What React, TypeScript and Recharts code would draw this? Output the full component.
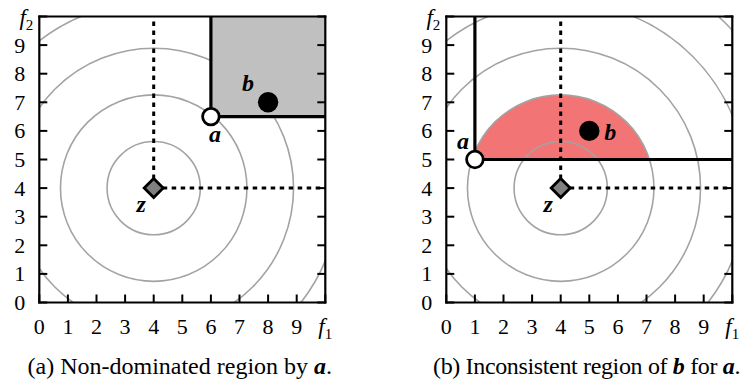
import React from 'react';
import { ScatterChart, Scatter, XAxis, YAxis, ReferenceArea, ReferenceLine } from 'recharts';

const SERIF = '"Liberation Serif", "Times New Roman", serif';

// ---- axes ----
const axisDomain: [number, number] = [0, 10];
const axisTicks = [0, 1, 2, 3, 4, 5, 6, 7, 8, 9, 10];
const tickLabels = ['0', '1', '2', '3', '4', '5', '6', '7', '8', '9'];
const xAxisName = ['f', '1'];
const yAxisName = ['f', '2'];

// ---- geometry ----
const zPoint = [{ x: 4, y: 4 }];
const contourRadii = [1.63, 3.26, 4.89, 6.52, 8.15];

const aPointA = [{ x: 6, y: 6.5 }];
const bPointA = [{ x: 8, y: 7 }];

const aPointB = [{ x: 1, y: 5 }];
const bPointB = [{ x: 5, y: 6 }];
const inconsistentRadius = 3.26;

const captionA = ['(a) Non-dominated region by ', 'a', '.'];
const captionB = ['(b) Inconsistent region of ', 'b', ' for ', 'a', '.'];

// ---- styles ----
const RING = '#a3a3a3';
const GRAY_REGION = '#c0c0c0';
const RED_REGION = '#f27474';
const axisLineStyle = { stroke: '#000', strokeWidth: 2.2, strokeLinecap: 'square' as const };
const tickLineStyle = { stroke: '#000', strokeWidth: 2 };

const XTick = (props: any) => {
  const { x, y, payload } = props;
  const v = payload.value;
  if (v === axisDomain[1]) {
    return (
      <text x={x} y={y + 31} textAnchor="middle" fontFamily={SERIF} fontSize={23} fill="#000">
        <tspan fontStyle="italic">{xAxisName[0]}</tspan>
        <tspan fontSize={15} dy={5}>{xAxisName[1]}</tspan>
      </text>
    );
  }
  return (
    <text x={x} y={y + 31} textAnchor="middle" fontFamily={SERIF} fontSize={22} fill="#000">
      {tickLabels[v]}
    </text>
  );
};

const YTick = (props: any) => {
  const { x, y, payload } = props;
  const v = payload.value;
  if (v === axisDomain[1]) {
    return (
      <text x={x - 6} y={y + 8} textAnchor="end" fontFamily={SERIF} fontSize={23} fill="#000">
        <tspan fontStyle="italic">{yAxisName[0]}</tspan>
        <tspan fontSize={15} dy={5}>{yAxisName[1]}</tspan>
      </text>
    );
  }
  return (
    <text x={x - 14} y={y + 7.5} textAnchor="end" fontFamily={SERIF} fontSize={22} fill="#000">
      {tickLabels[v]}
    </text>
  );
};

const emptyTick = () => <g />;

const ringShape = (props: any) => {
  const { x, y, width, height, clipPath } = props;
  const w = Math.abs(width);
  const h = Math.abs(height);
  return (
    <ellipse
      cx={x + w / 2}
      cy={y + h / 2}
      rx={w / 2}
      ry={h / 2}
      fill="none"
      stroke={RING}
      strokeWidth={1.6}
      clipPath={clipPath}
    />
  );
};

const makeSegmentShape = (center: { x: number; y: number }, r: number, floorY: number, leftX: number) =>
  (props: any) => {
    const { x, y, width, height, clipPath } = props;
    const rx = Math.abs(width) / 2;
    const ry = Math.abs(height) / 2;
    const cx = x + rx;
    const cy = y + ry;
    const px = (v: number) => cx + ((v - center.x) / r) * rx;
    const py = (v: number) => cy - ((v - center.y) / r) * ry;
    const dy = floorY - center.y;
    const half = Math.sqrt(r * r - dy * dy);
    const xl = Math.max(center.x - half, leftX);
    const yl = center.y + Math.sqrt(Math.max(r * r - (xl - center.x) * (xl - center.x), 0));
    const xr = center.x + half;
    const d = `M${px(xl)},${py(floorY)} L${px(xl)},${py(yl)} A${rx},${ry} 0 0 1 ${px(xr)},${py(floorY)} Z`;
    return <path d={d} fill={RED_REGION} stroke="none" clipPath={clipPath} />;
  };

const labelText = (x: number, y: number, t: string) => (
  <text x={x} y={y} textAnchor="middle" fontFamily={SERIF} fontSize={24} fontWeight="bold" fontStyle="italic" fill="#000">
    {t}
  </text>
);

const makeMarker = (kind: 'a' | 'b' | 'z', dx: number, dy: number) => (props: any) => {
  const { cx, cy } = props;
  let mark: React.ReactNode = null;
  if (kind === 'a') {
    mark = <circle cx={cx} cy={cy} r={8.3} fill="#fff" stroke="#000" strokeWidth={2.8} />;
  } else if (kind === 'b') {
    mark = <circle cx={cx} cy={cy} r={10.2} fill="#000" />;
  } else {
    const h = 9.5;
    mark = (
      <path
        d={`M${cx},${cy - h} L${cx + h},${cy} L${cx},${cy + h} L${cx - h},${cy} Z`}
        fill="#808080"
        stroke="#000"
        strokeWidth={2.8}
        strokeLinejoin="miter"
      />
    );
  }
  return (
    <g>
      {mark}
      {labelText(cx + dx, cy + dy, kind)}
    </g>
  );
};

type PanelCfg = {
  margin: { top: number; right: number; bottom: number; left: number };
  a: { x: number; y: number }[];
  b: { x: number; y: number }[];
  mode: 'dominated' | 'inconsistent';
  aLabel: [number, number];
  bLabel: [number, number];
  zLabel: [number, number];
};

function Panel({ cfg }: { cfg: PanelCfg }) {
  const z = zPoint[0];
  const a = cfg.a[0];
  const hi = axisDomain[1];
  const rings = contourRadii.map((r, i) => (
    <ReferenceArea
      key={`ring-${i}`}
      x1={z.x - r}
      x2={z.x + r}
      y1={z.y - r}
      y2={z.y + r}
      ifOverflow="hidden"
      shape={ringShape}
    />
  ));
  const region =
    cfg.mode === 'dominated' ? (
      <ReferenceArea key="dom" x1={a.x} x2={hi} y1={a.y} y2={hi} ifOverflow="hidden" fill={GRAY_REGION} fillOpacity={1} stroke="none" />
    ) : (
      <ReferenceArea
        key="inc"
        x1={z.x - inconsistentRadius}
        x2={z.x + inconsistentRadius}
        y1={z.y - inconsistentRadius}
        y2={z.y + inconsistentRadius}
        ifOverflow="hidden"
        shape={makeSegmentShape(z, inconsistentRadius, a.y, a.x)}
      />
    );
  const layers = cfg.mode === 'dominated' ? [...rings, region] : [region, ...rings];
  return (
    <ScatterChart width={373} height={385} margin={cfg.margin}>
      {layers}
      <ReferenceLine segment={[{ x: z.x, y: z.y }, { x: z.x, y: hi }]} stroke="#000" strokeWidth={3} strokeDasharray="4.5 4.5" />
      <ReferenceLine segment={[{ x: z.x, y: z.y }, { x: hi, y: z.y }]} stroke="#000" strokeWidth={3} strokeDasharray="4.5 4.5" />
      <ReferenceLine segment={[{ x: a.x, y: a.y }, { x: a.x, y: hi }]} stroke="#000" strokeWidth={3.2} />
      <ReferenceLine segment={[{ x: a.x, y: a.y }, { x: hi, y: a.y }]} stroke="#000" strokeWidth={3.2} />
      <Scatter data={zPoint} isAnimationActive={false} shape={makeMarker('z', cfg.zLabel[0], cfg.zLabel[1])} />
      <Scatter data={cfg.b} isAnimationActive={false} shape={makeMarker('b', cfg.bLabel[0], cfg.bLabel[1])} />
      <Scatter data={cfg.a} isAnimationActive={false} shape={makeMarker('a', cfg.aLabel[0], cfg.aLabel[1])} />
      <XAxis
        xAxisId={0}
        type="number"
        dataKey="x"
        domain={axisDomain}
        ticks={axisTicks}
        interval={0}
        allowDataOverflow
        height={40}
        tickSize={-8}
        tickMargin={8}
        axisLine={axisLineStyle}
        tickLine={tickLineStyle}
        tick={(p: any) => <XTick {...p} />}
      />
      <XAxis
        xAxisId="top"
        orientation="top"
        type="number"
        domain={axisDomain}
        ticks={axisTicks}
        interval={0}
        allowDataOverflow
        height={1}
        tickSize={-8}
        tickMargin={0}
        axisLine={axisLineStyle}
        tickLine={tickLineStyle}
        tick={emptyTick}
      />
      <YAxis
        yAxisId={0}
        type="number"
        dataKey="y"
        domain={axisDomain}
        ticks={axisTicks}
        interval={0}
        allowDataOverflow
        width={30}
        tickSize={-8}
        tickMargin={8}
        axisLine={axisLineStyle}
        tickLine={tickLineStyle}
        tick={(p: any) => <YTick {...p} />}
      />
      <YAxis
        yAxisId="right"
        orientation="right"
        type="number"
        domain={axisDomain}
        ticks={axisTicks}
        interval={0}
        allowDataOverflow
        width={1}
        tickSize={-8}
        tickMargin={0}
        axisLine={axisLineStyle}
        tickLine={tickLineStyle}
        tick={emptyTick}
      />
    </ScatterChart>
  );
}

const panelA: PanelCfg = {
  margin: { top: 15.5, right: 46.7, bottom: 42.5, left: 9.3 },
  a: aPointA,
  b: bPointA,
  mode: 'dominated',
  aLabel: [4, 25],
  bLabel: [-20, -11.5],
  zLabel: [-12.5, 24],
};

const panelB: PanelCfg = {
  margin: { top: 15.5, right: 12.7, bottom: 42.5, left: 43.3 },
  a: aPointB,
  b: bPointB,
  mode: 'inconsistent',
  aLabel: [-12, -11],
  bLabel: [21, 9],
  zLabel: [-12.5, 24],
};

const captionStyle: React.CSSProperties = {
  position: 'absolute',
  top: 354,
  fontFamily: SERIF,
  fontSize: 24,
  lineHeight: '24px',
  whiteSpace: 'nowrap',
  color: '#000',
};

export default function App() {
  return (
    <div style={{ position: 'absolute', left: 0, top: 0, width: 746, height: 385, overflow: 'hidden', background: '#fff' }}>
      <div style={{ position: 'absolute', left: 0, top: 0 }}>
        <Panel cfg={panelA} />
      </div>
      <div style={{ position: 'absolute', left: 373, top: 0 }}>
        <Panel cfg={panelB} />
      </div>
      <div style={{ ...captionStyle, left: 27.5 }}>
        {captionA[0]}
        <b><i>{captionA[1]}</i></b>
        {captionA[2]}
      </div>
      <div style={{ ...captionStyle, left: 433, letterSpacing: '-0.35px' }}>
        {captionB[0]}
        <b><i>{captionB[1]}</i></b>
        {captionB[2]}
        <b><i>{captionB[3]}</i></b>
        {captionB[4]}
      </div>
    </div>
  );
}
